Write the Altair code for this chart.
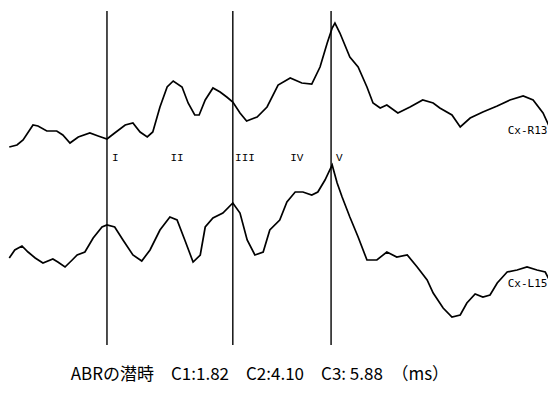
import altair as alt
import pandas as pd

# Upper trace (Cx-R13): time in ms, amplitude (arbitrary units)
r13_t = [0.05,0.19,0.30,0.48,0.57,0.73,0.91,1.02,1.15,1.30,
         1.51,1.66,1.82,1.96,2.15,2.29,2.42,2.55,2.65,2.78,
         2.91,3.02,3.18,3.29,3.41,3.49,3.60,3.74,3.87,3.99,
         4.10,4.23,4.35,4.54,4.72,4.92,5.14,5.35,5.53,5.68,
         5.81,5.90,5.95,6.04,6.22,6.37,6.53,6.64,6.77,6.89,
         7.09,7.31,7.54,7.73,7.85,8.07,8.22,8.40,8.63,8.89,
         9.12,9.36,9.54,9.72,9.88]
r13_a = [-17,-15,-10,5,4,-1,-1,-5,-13,-7,
         -3,-6,-9,-3,5,7,-2,-7,-2,23,
         43,49,43,27,15,15,30,42,38,33,
         28,17,9,13,23,45,52,47,46,63,
         87,102,107,97,73,63,43,27,22,25,
         17,23,30,27,22,15,3,12,18,24,
         30,34,30,17,-2]

# Lower trace (Cx-L15)
l15_t = [0.05,0.15,0.28,0.39,0.52,0.66,0.84,0.93,1.06,1.19,
         1.28,1.42,1.57,1.73,1.82,1.96,2.11,2.29,2.45,2.60,
         2.78,2.96,3.09,3.23,3.38,3.51,3.60,3.74,3.92,4.10,
         4.23,4.36,4.50,4.65,4.77,4.95,5.08,5.23,5.37,5.53,
         5.64,5.77,5.90,5.99,6.08,6.22,6.37,6.53,6.71,6.89,
         7.07,7.26,7.44,7.62,7.73,7.91,8.07,8.22,8.34,8.49,
         8.63,8.76,8.89,9.07,9.25,9.43,9.61,9.76,9.90]
l15_a = [2,10,14,8,2,-3,1,-2,-7,0,
         5,8,22,33,35,33,20,5,-1,10,
         30,43,40,20,-2,5,33,42,47,57,
         47,20,5,8,30,40,58,68,68,65,
         68,80,95,77,63,43,23,0,0,8,
         3,5,-7,-20,-33,-48,-57,-55,-43,-34,
         -37,-35,-23,-12,-10,-7,-10,-12,-27]

trace_names = ["Cx-R13", "Cx-L15"]
trace_offsets = [270, 140]

cursor_names = ["C1", "C2", "C3"]
cursor_ms = [1.82, 4.10, 5.88]

peak_labels = ["I", "II", "III", "IV", "V"]
peak_ms = [1.97, 3.09, 4.32, 5.26, 6.03]

caption = "ABRの潜時　C1:1.82　C2:4.10　C3: 5.88　（ms）"

rows = []
for t, a in zip(r13_t, r13_a):
    rows.append({"trace": trace_names[0], "t": t, "v": trace_offsets[0] + a})
for t, a in zip(l15_t, l15_a):
    rows.append({"trace": trace_names[1], "t": t, "v": trace_offsets[1] + a})
df = pd.DataFrame(rows)

xs = alt.Scale(domain=[0.027, 9.81], nice=False, zero=False)
ys = alt.Scale(domain=[12, 392], nice=False, zero=False)

lines = alt.Chart(df).mark_line(color="black", strokeWidth=1.7, clip=False).encode(
    x=alt.X("t:Q", scale=xs, axis=None),
    y=alt.Y("v:Q", scale=ys, axis=None),
    detail="trace:N",
)

cur_df = pd.DataFrame({"name": cursor_names, "t": cursor_ms, "top": [389]*3, "bot": [55]*3})
rules = alt.Chart(cur_df).mark_rule(color="black", strokeWidth=1.4).encode(
    x=alt.X("t:Q", scale=xs),
    y=alt.Y("top:Q", scale=ys),
    y2="bot:Q",
)

pk_df = pd.DataFrame({"label": peak_labels, "t": peak_ms, "v": [242]*5})
peaks = alt.Chart(pk_df).mark_text(font="Liberation Mono", fontSize=11, color="black",
                                   baseline="middle", align="center").encode(
    x=alt.X("t:Q", scale=xs), y=alt.Y("v:Q", scale=ys), text="label:N")

lab_df = pd.DataFrame({"label": trace_names, "t": [9.80, 9.80], "v": [269, 116]})
labs = alt.Chart(lab_df).mark_text(font="DejaVu Sans Mono", fontSize=11, color="black",
                                   baseline="middle", align="right").encode(
    x=alt.X("t:Q", scale=xs), y=alt.Y("v:Q", scale=ys), text="label:N")

cap_df = pd.DataFrame({"label": [caption], "t": [4.59], "v": [25]})
cap = alt.Chart(cap_df).mark_text(font="Noto Sans CJK JP", fontSize=17,
                                  color="black", baseline="middle", align="center").encode(
    x=alt.X("t:Q", scale=xs), y=alt.Y("v:Q", scale=ys), text="label:N")

chart = alt.layer(lines, rules, peaks, labs, cap).properties(
    width=540, height=380, autosize=alt.AutoSizeParams(type="none"), padding=0,
    background="white",
).configure_view(stroke=None)

chart.save("out.html", embed_options={"renderer": "svg", "actions": False})
